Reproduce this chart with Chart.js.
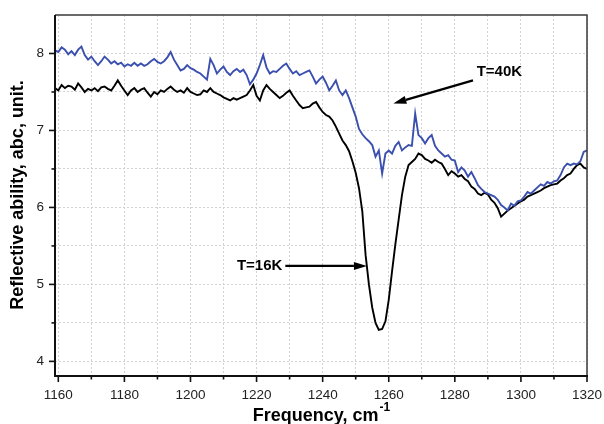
<!DOCTYPE html>
<html>
<head>
<meta charset="utf-8">
<script src="https://cdn.jsdelivr.net/npm/chart.js@4"></script>
<style>
html,body{margin:0;padding:0;background:#fff;}
#wrap{width:604px;height:424px;}
</style>
</head>
<body>
<div id="wrap"><canvas id="c" width="604" height="424"></canvas></div>
<script>
const freq = [1159,1160,1161,1162,1163,1164,1165,1166,1167,1168,1169,1170,1171,1172,1173,1174,1175,1176,1177,1178,1179,
1180,1181,1182,1183,1184,1185,1186,1187,1188,1189,1190,1191,1192,1193,1194,1195,1196,1197,1198,1199,
1200,1201,1202,1203,1204,1205,1206,1207,1208,1209,1210,1211,1212,1213,1214,1215,1216,1217,1218,1219,
1220,1221,1222,1223,1224,1225,1226,1227,1228,1229,1230,1231,1232,1233,1234,1235,1236,1237,1238,1239,
1240,1241,1242,1243,1244,1245,1246,1247,1248,1249,1250,1251,1252,1253,1254,1255,1256,1257,1258,1259,
1260,1261,1262,1263,1264,1265,1266,1267,1268,1269,1270,1271,1272,1273,1274,1275,1276,1277,1278,1279,
1280,1281,1282,1283,1284,1285,1286,1287,1288,1289,1290,1291,1292,1293,1294,1295,1296,1297,1298,1299,
1300,1301,1302,1303,1304,1305,1306,1307,1308,1309,1310,1311,1312,1313,1314,1315,1316,1317,1318,1319,1320];

const T40K = [8.04,8.02,8.08,8.05,7.99,8.03,7.98,8.05,8.09,7.98,7.92,7.96,7.90,7.85,7.90,7.96,7.92,7.87,7.90,7.86,7.88,
7.83,7.86,7.84,7.88,7.84,7.87,7.84,7.86,7.90,7.93,7.89,7.87,7.90,7.95,8.02,7.92,7.85,7.78,7.80,7.85,
7.81,7.79,7.76,7.74,7.70,7.66,7.93,7.85,7.74,7.79,7.83,7.76,7.72,7.77,7.80,7.76,7.79,7.72,7.60,7.66,
7.74,7.85,7.98,7.82,7.74,7.77,7.76,7.80,7.84,7.87,7.80,7.74,7.77,7.72,7.74,7.76,7.78,7.70,7.61,7.66,
7.70,7.62,7.52,7.58,7.65,7.52,7.46,7.52,7.42,7.30,7.18,7.02,6.95,6.90,6.86,6.81,6.66,6.74,6.44,6.70,
6.74,6.70,6.80,6.85,6.74,6.78,6.81,6.80,7.22,6.94,6.90,6.83,6.90,6.94,6.80,6.74,6.70,6.66,6.68,6.62,
6.61,6.46,6.52,6.48,6.40,6.46,6.38,6.29,6.24,6.20,6.18,6.16,6.14,6.10,6.03,6.00,5.96,6.05,6.02,6.08,
6.09,6.14,6.20,6.18,6.22,6.26,6.30,6.28,6.33,6.31,6.34,6.35,6.42,6.52,6.57,6.55,6.57,6.56,6.60,6.72,6.74];

const T16K = [7.55,7.52,7.59,7.55,7.58,7.57,7.53,7.61,7.56,7.50,7.54,7.52,7.55,7.51,7.56,7.57,7.54,7.52,7.58,7.65,7.58,
7.52,7.46,7.52,7.55,7.50,7.53,7.55,7.49,7.44,7.50,7.47,7.52,7.50,7.54,7.57,7.53,7.50,7.52,7.49,7.55,
7.50,7.48,7.46,7.47,7.52,7.50,7.55,7.50,7.48,7.46,7.43,7.41,7.39,7.42,7.40,7.42,7.44,7.46,7.52,7.59,
7.45,7.39,7.52,7.59,7.54,7.50,7.46,7.42,7.45,7.49,7.52,7.45,7.39,7.33,7.29,7.30,7.31,7.35,7.37,7.30,
7.24,7.20,7.18,7.13,7.05,6.96,6.87,6.81,6.73,6.60,6.45,6.25,5.95,5.38,5.00,4.70,4.50,4.41,4.42,4.52,
4.80,5.17,5.52,5.84,6.16,6.40,6.55,6.59,6.63,6.70,6.68,6.63,6.61,6.58,6.62,6.59,6.57,6.50,6.42,6.47,
6.44,6.40,6.42,6.37,6.34,6.27,6.24,6.18,6.16,6.19,6.17,6.10,6.06,5.99,5.88,5.92,5.96,5.99,6.02,6.05,
6.08,6.10,6.14,6.16,6.18,6.20,6.22,6.25,6.27,6.29,6.30,6.31,6.35,6.38,6.42,6.44,6.50,6.55,6.57,6.52,6.50];

const xTickValues = [1160,1170,1180,1190,1200,1210,1220,1230,1240,1250,1260,1270,1280,1290,1300,1310,1320];
const xTickLabels = ['1160','','1180','','1200','','1220','','1240','','1260','','1280','','1300','','1320'];
const yTickValues = [4,4.5,5,5.5,6,6.5,7,7.5,8];
const yTickLabels = ['4','','5','','6','','7','','8'];

const seriesNames = ['T=40K','T=16K'];
// annotation anchors in data units: [label x, label y, arrow start x, start y, arrow tip x, tip y]
const note40 = [1286.6, 7.76, 1285.5, 7.65, 1261.4, 7.35];
const note16 = [1227.8, 5.24, 1228.7, 5.24, 1253.4, 5.24];

const FONT = "'Liberation Sans', Arial, sans-serif";

function arrow(ctx, x1, y1, x2, y2) {
  const ang = Math.atan2(y2 - y1, x2 - x1);
  const hl = 13, hw = 4;
  const bx = x2 - hl * Math.cos(ang), by = y2 - hl * Math.sin(ang);
  ctx.beginPath();
  ctx.moveTo(x1, y1);
  ctx.lineTo(bx, by);
  ctx.lineWidth = 2.2;
  ctx.strokeStyle = '#000';
  ctx.stroke();
  ctx.beginPath();
  ctx.moveTo(x2, y2);
  ctx.lineTo(bx + hw * Math.sin(ang), by - hw * Math.cos(ang));
  ctx.lineTo(bx - hw * Math.sin(ang), by + hw * Math.cos(ang));
  ctx.closePath();
  ctx.fillStyle = '#000';
  ctx.fill();
}

const decor = {
  id: 'decor',
  afterDraw(chart) {
    const ctx = chart.ctx;
    const {left, right, top, bottom} = chart.chartArea;
    const xs = chart.scales.x, ys = chart.scales.y;
    ctx.save();
    // frame top/right
    ctx.strokeStyle = '#3a3a3a';
    ctx.lineWidth = 1.5;
    ctx.beginPath();
    ctx.moveTo(left, top); ctx.lineTo(right, top); ctx.lineTo(right, bottom);
    ctx.stroke();
    // axes left/bottom
    ctx.strokeStyle = '#111';
    ctx.lineWidth = 2;
    ctx.beginPath();
    ctx.moveTo(left, top); ctx.lineTo(left, bottom); ctx.lineTo(right + 1, bottom);
    ctx.stroke();
    // tick marks
    ctx.lineWidth = 1.6;
    xTickValues.forEach((v, i) => {
      const px = xs.getPixelForValue(v);
      const len = xTickLabels[i] ? 6 : 3.5;
      ctx.beginPath(); ctx.moveTo(px, bottom); ctx.lineTo(px, bottom + len); ctx.stroke();
    });
    yTickValues.forEach((v, i) => {
      const py = ys.getPixelForValue(v);
      const len = yTickLabels[i] ? 6 : 3.5;
      ctx.beginPath(); ctx.moveTo(left, py); ctx.lineTo(left - len, py); ctx.stroke();
    });
    // annotations
    ctx.font = 'bold 15px ' + FONT;
    ctx.fillStyle = '#000';
    ctx.textBaseline = 'middle';
    ctx.textAlign = 'left';
    ctx.fillText(seriesNames[0], xs.getPixelForValue(note40[0]), ys.getPixelForValue(note40[1]));
    arrow(ctx, xs.getPixelForValue(note40[2]), ys.getPixelForValue(note40[3]),
               xs.getPixelForValue(note40[4]), ys.getPixelForValue(note40[5]));
    ctx.textAlign = 'right';
    ctx.fillText(seriesNames[1], xs.getPixelForValue(note16[0]), ys.getPixelForValue(note16[1]));
    arrow(ctx, xs.getPixelForValue(note16[2]), ys.getPixelForValue(note16[3]),
               xs.getPixelForValue(note16[4]), ys.getPixelForValue(note16[5]));
    // x axis title with superscript
    const main = 'Frequency, cm';
    const sup = '-1';
    ctx.font = 'bold 18px ' + FONT;
    const w1 = ctx.measureText(main).width;
    ctx.font = 'bold 12px ' + FONT;
    const w2 = ctx.measureText(sup).width;
    const cx = (left + right) / 2;
    const x0 = cx - (w1 + w2) / 2;
    ctx.textAlign = 'left';
    ctx.textBaseline = 'alphabetic';
    ctx.font = 'bold 18px ' + FONT;
    ctx.fillText(main, x0, 421);
    ctx.font = 'bold 12px ' + FONT;
    ctx.fillText(sup, x0 + w1 + 1, 411);
    // y axis title
    ctx.translate(23, 195);
    ctx.rotate(-Math.PI / 2);
    ctx.font = 'bold 18px ' + FONT;
    ctx.textAlign = 'center';
    ctx.textBaseline = 'alphabetic';
    ctx.fillText('Reflective ability, abc, unit.', 0, 0);
    ctx.restore();
  }
};

new Chart(document.getElementById('c'), {
  type: 'line',
  data: {
    datasets: [
      {
        label: seriesNames[0],
        data: freq.map((f, i) => ({x: f, y: T40K[i]})),
        borderColor: '#3a4fae',
        borderWidth: 1.9,
        pointRadius: 0,
        tension: 0,
        fill: false
      },
      {
        label: seriesNames[1],
        data: freq.map((f, i) => ({x: f, y: T16K[i]})),
        borderColor: '#000000',
        borderWidth: 1.9,
        pointRadius: 0,
        tension: 0,
        fill: false
      }
    ]
  },
  options: {
    responsive: false,
    animation: false,
    events: [],
    layout: {padding: {top: 15, right: 17, left: 0, bottom: 0}},
    plugins: {legend: {display: false}, tooltip: {enabled: false}},
    scales: {
      x: {
        type: 'linear',
        min: 1159,
        max: 1320,
        afterBuildTicks(s) { s.ticks = xTickValues.map(v => ({value: v})); },
        afterFit(s) { s.height = 48; s.paddingLeft = 0; s.paddingRight = 0; },
        grid: {color: '#d2d2d2', lineWidth: 1, drawTicks: false},
        border: {display: false, dash: [2, 2]},
        ticks: {
          padding: 11,
          color: '#222',
          font: {family: FONT, size: 13.5},
          maxRotation: 0,
          autoSkip: false,
          callback(v) { const i = xTickValues.indexOf(v); return i >= 0 ? xTickLabels[i] : ''; }
        }
      },
      y: {
        type: 'linear',
        min: 3.81,
        max: 8.5,
        afterBuildTicks(s) { s.ticks = yTickValues.map(v => ({value: v})); },
        afterFit(s) { s.width = 55; s.paddingTop = 0; s.paddingBottom = 0; },
        grid: {color: '#d2d2d2', lineWidth: 1, drawTicks: false},
        border: {display: false, dash: [2, 2]},
        ticks: {
          padding: 11,
          color: '#222',
          font: {family: FONT, size: 13.5},
          autoSkip: false,
          callback(v) { const i = yTickValues.indexOf(v); return i >= 0 ? yTickLabels[i] : ''; }
        }
      }
    }
  },
  plugins: [decor]
});
</script>
</body>
</html>
